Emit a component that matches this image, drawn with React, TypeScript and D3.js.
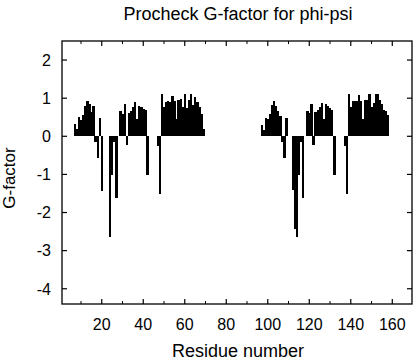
import React from "react";
import * as d3 from "d3";

const residuesA = [7, 8, 9, 10, 11, 12, 13, 14, 15, 16, 17, 18, 19, 20, 24, 25, 26, 27, 29, 30, 31, 32, 33, 34, 35, 36, 37, 38, 39, 40, 41, 42, 47, 48, 49, 50, 51, 52, 53, 54, 55, 56, 57, 58, 59, 60, 61, 62, 63, 64, 65, 66, 67, 68, 69];
const gFactorA = [0.31, 0.2, 0.5, 0.43, 0.55, 0.8, 0.93, 0.85, 0.65, 0.8, -0.16, -0.58, 0.48, -1.44, -2.63, -1.02, -0.15, -1.63, 0.66, 0.58, 0.86, -0.23, 0.62, 0.67, 0.77, 0.89, 0.45, 0.8, 0.77, 0.72, 0.7, -1.02, -0.26, -1.52, 1.12, 0.78, 0.9, 0.92, 0.9, 1.07, 0.92, 0.46, 0.94, 0.97, 0.78, 1.1, 0.75, 0.94, 1.1, 0.82, 1.04, 0.9, 0.76, 0.58, 0.2];

const residuesB = [97, 98, 99, 100, 101, 102, 103, 104, 105, 106, 107, 108, 109, 112, 113, 114, 115, 116, 117, 119, 120, 121, 122, 123, 124, 125, 126, 127, 128, 129, 130, 131, 132, 137, 138, 139, 140, 141, 142, 143, 144, 145, 146, 147, 148, 149, 150, 151, 152, 153, 154, 155, 156, 157, 158];
const gFactorB = [0.29, 0.17, 0.48, 0.45, 0.58, 0.83, 0.92, 0.8, 0.66, 0.52, -0.15, -0.58, 0.48, -1.41, -2.43, -2.63, -1.02, -0.15, -1.63, 0.66, 0.6, 0.84, -0.23, 0.64, 0.68, 0.76, 0.88, 0.45, 0.85, 0.8, 0.74, 0.7, -1.02, -0.26, -1.52, 1.12, 0.78, 0.92, 0.93, 0.92, 1.08, 0.92, 0.46, 0.96, 0.94, 1.12, 0.78, 0.88, 1.12, 1.12, 0.96, 0.85, 0.7, 0.66, 0.57];

const xMajorTicks = [20, 40, 60, 80, 100, 120, 140, 160];
const xMinorTicks = [10, 30, 50, 70, 90, 110, 130, 150];
const yTicks = [-4, -3, -2, -1, 0, 1, 2];

const titleText = "Procheck G-factor for phi-psi";
const xLabel = "Residue number";
const yLabel = "G-factor";

export default function App() {
  const W = 416, H = 360;
  const left = 62, right = 412, top = 41, bottom = 304;
  const x = d3.scaleLinear().domain([0.85, 169.5]).range([left, right]);
  const y = d3.scaleLinear().domain([-4.4, 2.5]).range([bottom, top]);
  const font = "'Liberation Sans', Arial, Helvetica, sans-serif";

  const bars = [
    ...residuesA.map((r, i) => ({ r, v: gFactorA[i] })),
    ...residuesB.map((r, i) => ({ r, v: gFactorB[i] })),
  ];

  return (
    <svg width={W} height={H} style={{ position: "absolute", left: 0, top: 0, background: "#fff" }} fontFamily={font}>
      <rect x={0} y={0} width={W} height={H} fill="#fff" />
      <g shapeRendering="crispEdges">
        {bars.map((d) => {
          const x0 = x(d.r - 0.5), x1 = x(d.r + 0.5);
          const y0 = y(0), y1 = y(d.v);
          return (
            <rect key={d.r} x={x0} width={x1 - x0 + 0.3} y={Math.min(y0, y1)} height={Math.abs(y1 - y0)} fill="#000" />
          );
        })}
      </g>
      <rect x={left} y={top} width={right - left} height={bottom - top} fill="none" stroke="#000" strokeWidth={1.3} />
      {xMajorTicks.map((t) => (
        <g key={"M" + t}>
          <line x1={x(t)} x2={x(t)} y1={bottom} y2={bottom - 5} stroke="#000" strokeWidth={1.2} />
          <line x1={x(t)} x2={x(t)} y1={top} y2={top + 5} stroke="#000" strokeWidth={1.2} />
          <text x={x(t)} y={330} textAnchor="middle" fontSize={16}>{t}</text>
        </g>
      ))}
      {xMinorTicks.map((t) => (
        <g key={"m" + t}>
          <line x1={x(t)} x2={x(t)} y1={bottom} y2={bottom - 3} stroke="#000" strokeWidth={1} />
          <line x1={x(t)} x2={x(t)} y1={top} y2={top + 3} stroke="#000" strokeWidth={1} />
        </g>
      ))}
      {yTicks.map((t) => (
        <g key={"y" + t}>
          <line x1={left} x2={left + 5} y1={y(t)} y2={y(t)} stroke="#000" strokeWidth={1.2} />
          <line x1={right} x2={right - 5} y1={y(t)} y2={y(t)} stroke="#000" strokeWidth={1.2} />
          <text x={51} y={y(t)} dy="0.36em" textAnchor="end" fontSize={16}>{t}</text>
        </g>
      ))}
      <text x={(left + right) / 2 + 1} y={20} textAnchor="middle" fontSize={18}>{titleText}</text>
      <text x={(left + right) / 2 + 1} y={357} textAnchor="middle" fontSize={18}>{xLabel}</text>
      <text transform={`translate(15,178) rotate(-90)`} textAnchor="middle" fontSize={17}>{yLabel}</text>
    </svg>
  );
}
